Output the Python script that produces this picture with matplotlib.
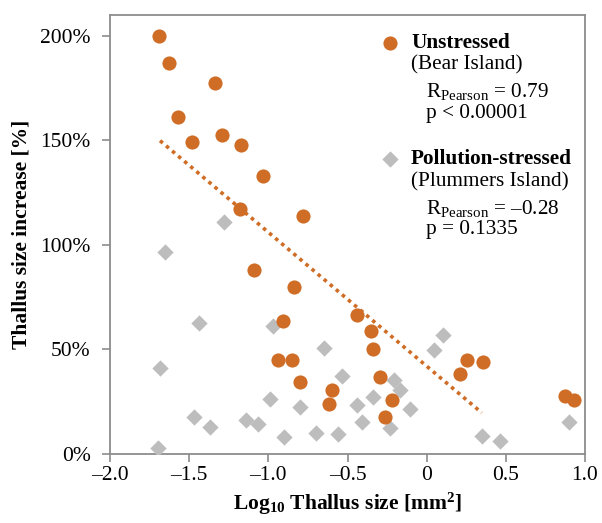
import matplotlib
matplotlib.use("Agg")
import matplotlib.pyplot as plt
from matplotlib.ticker import FuncFormatter, FixedLocator
import numpy as np

# ---- data ----
unstressed_x = [-1.69, -1.63, -1.57, -1.48, -1.335, -1.29, -1.17, -1.036, -1.177, -0.78,
                -1.093, -0.84, -0.907, -0.939, -0.85, -0.80,
                -0.443, -0.352, -0.342, -0.296, -0.597, -0.616, -0.222, -0.262,
                0.253, 0.211, 0.358, 0.875, 0.928]
unstressed_y = [200, 187, 161, 149, 177.5, 152.5, 148, 133, 117, 114,
                88, 79.6, 63.6, 45, 45, 34.2,
                66.4, 58.7, 50.3, 36.8, 30.3, 23.9, 25.7, 17.4,
                45, 38, 43.7, 27.8, 25.7]

stressed_x = [-1.281, -1.652, -1.441, -0.968, -1.684, -0.987, -0.802, -1.467, -1.367,
              -1.139, -1.066, -0.904, -0.70, -1.699, -0.65,
              -0.532, -0.437, -0.411, -0.559, -0.338, -0.205, -0.169, -0.106, -0.232,
              0.101, 0.046, 0.348, 0.464, 0.896]
stressed_y = [110.9, 96.7, 62.4, 61.1, 41, 26.2, 22.5, 17.4, 12.9,
              16.1, 14.1, 8.1, 9.8, 2.6, 50.8,
              37.3, 23.3, 15.3, 9.4, 27.3, 35.3, 30.5, 21.2, 12.1,
              56.8, 49.6, 8.5, 6.2, 15.3]

# trend line of the unstressed group (slope, intercept, x-range)
trend_slope = -64.1
trend_intercept = 41.9
trend_x_range = [-1.684, 0.348]

x_ticks = [-2.0, -1.5, -1.0, -0.5, 0, 0.5, 1.0]
y_ticks = [0, 50, 100, 150, 200]

orange = "#CF6D26"
grey = "#BDBDBD"
spine_c = "#8C8C8C"

plt.rcParams['font.family'] = ['Liberation Serif', 'DejaVu Serif']
plt.rcParams['mathtext.fontset'] = 'custom'
plt.rcParams['mathtext.rm'] = 'Liberation Serif'
plt.rcParams['mathtext.it'] = 'Liberation Serif:italic'
plt.rcParams['mathtext.bf'] = 'Liberation Serif:bold'

fig = plt.figure(figsize=(6.02, 5.23), dpi=100)
ax = fig.add_axes([0.1827, 0.1325, 0.7891, 0.8388])

ax.scatter(stressed_x, stressed_y, marker='D', s=8.3**2, color=grey, linewidths=0, zorder=3)
ax.scatter(unstressed_x, unstressed_y, marker='o', s=10.2**2, color=orange, linewidths=0, zorder=4)

tx = np.array(trend_x_range)
ax.plot(tx, trend_slope * tx + trend_intercept, color=orange, lw=2.6,
        linestyle=(0, (1, 1.2)), dash_capstyle='butt', zorder=2)

ax.set_xlim(-2.0, 1.0)
ax.set_ylim(0, 210)
ax.xaxis.set_major_locator(FixedLocator(x_ticks))
ax.yaxis.set_major_locator(FixedLocator(y_ticks))

def xfmt(v, pos):
    if abs(v) < 1e-9:
        return "0"
    s = f"{abs(v):.1f}"
    return ("\u2013" + s) if v < 0 else s

ax.xaxis.set_major_formatter(FuncFormatter(xfmt))
ax.yaxis.set_major_formatter(FuncFormatter(lambda v, p: f"{int(v)}%"))

for sp in ax.spines.values():
    sp.set_color(spine_c)
    sp.set_linewidth(1.3)
ax.tick_params(axis='both', direction='out', length=6, width=1.2, color=spine_c,
               labelsize=15.5, labelcolor='black')
ax.tick_params(axis='y', pad=8)
ax.tick_params(axis='x', pad=3)

ax.set_xlabel(r"Log$_{\mathbf{10}}$ Thallus size [mm$^{\mathbf{2}}$]", fontsize=15.5,
              fontweight='bold', labelpad=4)
ax.set_ylabel("Thallus size increase [%]", fontsize=15.5, fontweight='bold', labelpad=6)

# legend-like annotation
def px2ax(px, py):
    return ((px - 110) / (585 - 110), (453.7 - py) / (453.7 - 15))

fs = 15.3
mx, my = px2ax(390, 43)
ax.scatter([mx], [my], transform=ax.transAxes, marker='o', s=10.2**2, color=orange,
           linewidths=0, clip_on=False, zorder=5)
mx, my = px2ax(390, 159)
ax.scatter([mx], [my], transform=ax.transAxes, marker='D', s=8.3**2, color=grey,
           linewidths=0, clip_on=False, zorder=5)

lines = [
    (411, 43, "Unstressed", 'bold'),
    (411, 65, "(Bear Island)", 'normal'),
    (426, 91, r"R$_{\mathrm{Pearson}}$ = 0.79", 'normal'),
    (426, 113, "p < 0.00001", 'normal'),
    (411, 159, "Pollution-stressed", 'bold'),
    (411, 182, "(Plummers Island)", 'normal'),
    (426, 208, "R$_{\\mathrm{Pearson}}$ = \u20130.28", 'normal'),
    (426, 229, "p = 0.1335", 'normal'),
]
for px, py, t, w in lines:
    x, y = px2ax(px, py)
    ax.text(x, y, t, transform=ax.transAxes, fontsize=fs, fontweight=w,
            ha='left', va='center')

fig.savefig("out.png", dpi=100)
